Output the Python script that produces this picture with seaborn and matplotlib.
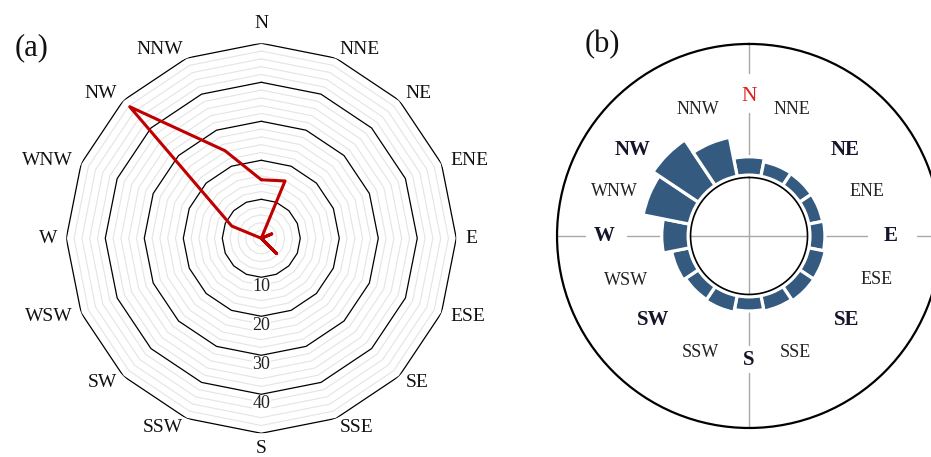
import numpy as np
import pandas as pd
import seaborn as sns
import matplotlib.pyplot as plt

# =========================
# DATA
# =========================
directions = ["N", "NNE", "NE", "ENE", "E", "ESE", "SE", "SSE",
              "S", "SSW", "SW", "WSW", "W", "WNW", "NW", "NNW"]

# (a) radar values per direction
radar_values = [15.0, 15.9, 0.0, 2.9, 0.0, 0.0, 5.5, 0.0,
                0.0, 0.0, 0.0, 0.0, 0.0, 8.2, 47.7, 24.3]
radar_rings = [10, 20, 30, 40, 50]
radar_ticks = [10, 20, 30, 40]

# (b) wind rose frequency per direction
rose_freq = [6.1, 4.9, 4.7, 4.7, 5.0, 5.6, 5.7, 5.2,
             4.7, 5.6, 5.2, 6.0, 8.8, 15.7, 18.2, 13.2]
bold_dirs = ["NE", "E", "SE", "S", "SW", "W", "NW"]

# label placement for (b): compass angle (deg) and radius
rose_label_angle = [0, 18.5, 48.1, 69.3, 90, 109, 130.7, 158.1,
                    180, 202.9, 228.8, 250.2, 270, 288.3, 306.4, 337.9]
rose_label_r = [46.4, 44.5, 42.9, 41.9, 47.3, 45.0, 42.9, 41.8,
                41.3, 42.1, 42.5, 43.4, 48.3, 47.1, 48.3, 45.6]

# =========================
# STYLE
# =========================
sns.set_theme(style="white")
plt.rcParams["font.family"] = ["Liberation Serif", "DejaVu Serif"]

fig = plt.figure(figsize=(9.31, 4.57), dpi=100)
theta = np.deg2rad(np.arange(16) * 22.5)

# =========================
# (a) RADAR
# =========================
axL = fig.add_axes([0.0712, 0.0519, 0.4189, 0.8534], projection="polar")
axL.set_theta_zero_location("N")
axL.set_theta_direction(-1)
axL.set_ylim(0, 50)
axL.grid(False)
axL.set_xticks([])
axL.set_yticks([])
axL.spines["polar"].set_visible(False)

th_closed = np.append(theta, theta[0] + 2 * np.pi)
for r in range(2, 51, 2):
    dark = r in radar_rings
    axL.plot(th_closed, [r] * len(th_closed),
             color="black" if dark else "#e4e4e4",
             lw=0.9 if dark else 0.8, zorder=2 if dark else 1)

df = pd.DataFrame({"theta": th_closed,
                   "value": radar_values + radar_values[:1]})
sns.lineplot(data=df, x="theta", y="value", sort=False, estimator=None,
             color="#c00000", lw=2.2, ax=axL, zorder=4)
axL.set_xlabel("")
axL.set_ylabel("")

for v in radar_ticks:
    axL.text(np.pi, v + 2.4, str(v), ha="center", va="center", fontsize=13,
             color="#222222", zorder=3,
             bbox=dict(facecolor="white", edgecolor="none", pad=0.3))

for d, th in zip(directions, theta):
    s = np.sin(th)
    ha = "center" if abs(s) < 0.1 else ("left" if s > 0 else "right")
    if d == "S":
        r = 54.0  # keep it inside the figure
    elif abs(s) < 0.1:
        r = 55.2
    else:
        r = 52.4
    axL.text(th, r, d, ha=ha, va="center", fontsize=14, color="#111111")

# =========================
# (b) WIND ROSE
# =========================
axR = fig.add_axes([0.5983, 0.0635, 0.4125, 0.8403], projection="polar")
axR.set_theta_zero_location("N")
axR.set_theta_direction(-1)
axR.set_ylim(0, 64)
axR.grid(False)
axR.set_xticks([])
axR.set_yticks([])
axR.spines["polar"].set_linewidth(1.6)
axR.spines["polar"].set_color("black")

# gray cross lines, broken around the main labels
cross = {0: (41.0, 54.2), 90: (39.2, 55.9), 180: (36.3, 45.7), 270: (40.8, 54.7)}
for ang, (r_in, r_out) in cross.items():
    t = np.deg2rad(ang)
    axR.plot([t, t], [0, r_in], color="#a8a8a8", lw=1.0, zorder=1)
    axR.plot([t, t], [r_out, 64], color="#a8a8a8", lw=1.0, zorder=1)

axR.bar(theta, rose_freq, width=2 * np.pi / 16, bottom=20.3,
        color="#355a80", edgecolor="white", linewidth=2.3, zorder=2)

circ = np.linspace(0, 2 * np.pi, 300)
axR.plot(circ, [19.5] * len(circ), color="black", lw=1.2, zorder=3)

for d, a, r in zip(directions, rose_label_angle, rose_label_r):
    if d == "N":
        kw = dict(fontsize=15.5, color="#e0201b")
    elif d in bold_dirs:
        kw = dict(fontsize=15, fontweight="bold", color="#14142b")
    else:
        kw = dict(fontsize=13, color="#222222")
    axR.text(np.deg2rad(a), r, d, ha="center", va="center", zorder=4, **kw)

fig.text(32 / 931, 1 - 48 / 457, "(a)", fontsize=22, ha="center", va="center",
         color="#111111")
fig.text(602 / 931, 1 - 45 / 457, "(b)", fontsize=22, ha="center", va="center",
         color="#111111")

fig.savefig("out.png", dpi=100)
